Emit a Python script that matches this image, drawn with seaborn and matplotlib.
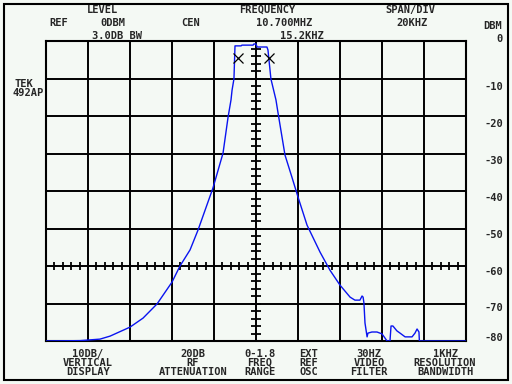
import numpy as np
import pandas as pd
import matplotlib
matplotlib.use("Agg")
import matplotlib.pyplot as plt
import matplotlib.transforms as mtransforms
import seaborn as sns

# ---- data (frequency offset in kHz from 10.700 MHz, level in dBm) ----
freq_khz = [-100, -83.8, -74.3, -69.5, -60.0, -53.8, -47.1, -40.0, -36.2, -31.4,
            -27.6, -20.5, -15.7, -13.3, -11.9, -11.4, -10.5, -10.0, -7.1, -6.7,
            -1.4, -1.0, 0.0, 0.5, 5.2, 5.7, 7.1, 9.5, 10.5, 13.8, 17.1, 20.0,
            24.3, 30.5, 35.2, 40.0, 44.8, 47.1, 49.5, 50.5, 51.0, 51.4, 51.9,
            52.9, 53.3, 55.2, 57.6, 60.0, 61.4, 62.4, 63.8, 64.3, 65.2, 67.1,
            68.6, 71.0, 74.3, 75.7, 76.7, 77.6, 77.8, 100]
level_dbm = [-80, -79.9, -79.5, -78.7, -76.3, -73.9, -70.1, -64.3, -60.0, -55.7,
             -50.4, -39.2, -29.9, -20.3, -15.7, -13.1, -10.1, -1.3, -1.3, -1.1,
             -1.1, -0.8, -0.8, -1.6, -1.6, -2.4, -10.1, -15.7, -19.2, -30.4, -36.3, -41.6,
             -49.1, -56.3, -61.1, -65.1, -68.3, -69.1, -69.1, -68.0, -68.3, -69.9, -75.2,
             -78.9, -77.9, -77.6, -77.6, -78.1, -79.2, -80, -80, -76.0, -76.0, -77.3,
             -77.9, -78.9, -78.9, -77.9, -76.8, -77.6, -80, -80]
marker_khz = [-8.6, 6.2]
marker_dbm = [-4.5, -4.5]
y_labels = ["0", "-10", "-20", "-30", "-40", "-50", "-60", "-70", "-80"]
y_values = [0, -10, -20, -30, -40, -50, -60, -70, -80]

W, H = 512, 384
BG = "#f4f9f4"
FS = 7.5

sns.set_style("white")
plt.rcParams["font.family"] = ["DejaVu Sans Mono", "DejaVu Sans"]
plt.rcParams["font.weight"] = "bold"

fig = plt.figure(figsize=(W / 100, H / 100), dpi=100, facecolor=BG)
ax = fig.add_axes([46 / W, 1 - 341 / H, 420 / W, 300 / H], facecolor=BG)

df = pd.DataFrame({"f": freq_khz, "l": level_dbm})
sns.lineplot(data=df, x="f", y="l", sort=False, estimator=None, color="#0a14f0",
             lw=1.0, ax=ax, zorder=5)
ax.plot(marker_khz, marker_dbm, linestyle="none", marker="x", color="black",
        markersize=7.5, mew=0.9, zorder=6)

ax.set_xlim(-100, 100)
ax.set_ylim(-80, 0)
ax.set_xticks(np.arange(-100, 101, 20))
ax.set_yticks(y_values)
ax.tick_params(length=0, labelbottom=False, labelleft=False)
ax.set_xlabel("")
ax.set_ylabel("")
ax.grid(True, color="black", lw=1.4)
for s in ax.spines.values():
    s.set_color("black")
    s.set_linewidth(1.5)

# graticule minor ticks on centre cross
ax.plot(np.zeros(39), np.arange(-78, 0, 2), linestyle="none", marker="_",
        color="black", markersize=7, mew=1.3, zorder=4)
ax.plot(np.arange(-96, 100, 4), np.full(49, -60), linestyle="none", marker="|",
        color="black", markersize=6, mew=1.3, zorder=4)

# right-side dB labels
offsets = [-2, 8, 8, 8, 7, 6.5, 5.7, 4.5, -3]
trans = mtransforms.blended_transform_factory(ax.transAxes, ax.transData)
for lab, v, off in zip(y_labels, y_values, offsets):
    t = mtransforms.offset_copy(trans, fig=fig, x=0, y=-off, units="dots")
    ax.text((503 - 46) / 420, v, lab, transform=t, ha="right", va="center",
            fontsize=FS, fontweight="bold", clip_on=False)

def ft(x, y, s, ha="center"):
    fig.text(x / W, 1 - y / H, s, ha=ha, va="center", fontsize=FS,
             fontweight="bold", zorder=10)

ft(102, 10, "LEVEL")
ft(267, 10, "FREQUENCY")
ft(410, 10, "SPAN/DIV")
ft(59, 23, "REF")
ft(113, 23, "0DBM")
ft(191, 23, "CEN")
ft(284, 23, "10.700MHZ")
ft(412, 23, "20KHZ")
ft(493, 26, "DBM")
ft(117, 36, "3.0DB BW")
ft(302, 36, "15.2KHZ")
ft(24, 84, "TEK")
ft(28, 93, "492AP")

bottom = [
    (88, ["10DB/", "VERTICAL", "DISPLAY"]),
    (193, ["20DB", "RF", "ATTENUATION"]),
    (260, ["0-1.8", "FREQ", "RANGE"]),
    (309, ["EXT", "REF", "OSC"]),
    (369, ["30HZ", "VIDEO", "FILTER"]),
    (445, ["1KHZ", "RESOLUTION", "BANDWIDTH"]),
]
for x, lines in bottom:
    for i, s in enumerate(lines):
        ft(x, 354 + 9 * i, s)

# outer frame
fig.add_artist(plt.Rectangle((4 / W, 1 - 380 / H), 504 / W, 376 / H,
                             transform=fig.transFigure, fill=False,
                             edgecolor="black", lw=1.5))

fig.savefig("out.png", dpi=100, facecolor=BG)
